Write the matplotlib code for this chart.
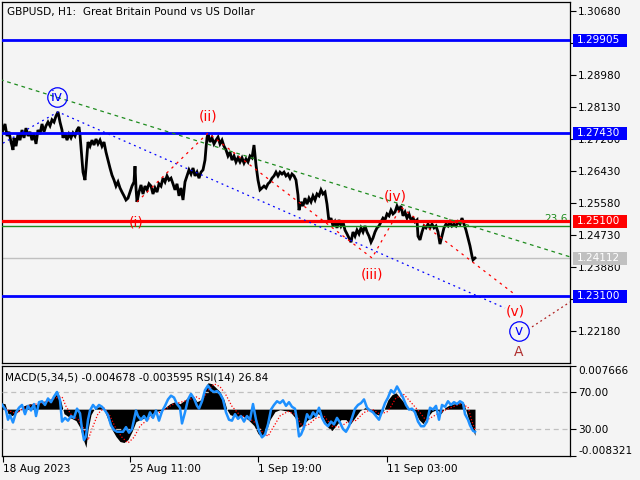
import matplotlib
matplotlib.use("Agg")
import matplotlib.pyplot as plt
from matplotlib.patches import Rectangle

BG = "#f4f4f4"

# ---- GBPUSD H1 closes (bar index, price) ----
bars = [0, 3, 5, 7, 9, 11, 13, 14, 16, 18, 20, 22, 24, 26, 28, 30, 32, 34, 36, 38,
        40, 42, 44, 46, 48, 50, 52, 54, 56, 58, 60, 62, 63, 65, 67, 69, 71, 73, 75, 77,
        79, 80, 82, 83, 85, 86, 88, 90, 92, 94, 96, 98, 100, 102, 104, 106, 108, 110, 112, 114,
        116, 118, 120, 122, 124, 126, 128, 130, 132, 134, 135, 136, 137, 139, 141, 143, 145, 147, 149, 151,
        153, 155, 157, 159, 161, 163, 165, 167, 169, 171, 173, 175, 177, 179, 181, 183, 185, 187, 189, 191,
        193, 195, 197, 199, 201, 203, 205, 206, 207, 208, 210, 212, 214, 216, 218, 220, 222, 224, 226, 228,
        230, 232, 234, 236, 238, 240, 242, 244, 246, 248, 250, 252, 254, 256, 258, 260, 262, 264, 266, 268,
        270, 272, 274, 276, 278, 280, 282, 284, 286, 288, 290, 292, 294, 296, 298, 299, 301, 303, 305, 307,
        309, 311, 313, 315, 317, 319, 321, 323, 325, 327, 329, 331, 333, 335, 337, 339, 341, 343, 345, 347,
        349, 351, 353, 355, 357, 359, 361, 363, 365, 367, 369, 371, 373, 375, 377, 379, 381, 383, 385, 387,
        389, 391, 393, 395, 397, 399, 401, 403, 405, 407, 409, 411, 413, 415, 417, 418, 420, 422, 424, 426,
        428, 430, 432, 434, 436, 438, 440, 442, 444, 446, 448, 450, 452, 454, 456, 458, 460, 462, 464, 466,
        468, 470, 472, 473, 475]
close = [1.2763, 1.2752, 1.2768, 1.2736, 1.2747, 1.2720, 1.2699, 1.2731, 1.2709, 1.2741,
         1.2725, 1.2752, 1.2731, 1.2757, 1.2736, 1.2747, 1.2725, 1.2741, 1.2715, 1.2752,
         1.2741, 1.2768, 1.2747, 1.2763, 1.2773, 1.2763, 1.2779, 1.2773, 1.2789, 1.2800,
         1.2773, 1.2752, 1.2731, 1.2744, 1.2725, 1.2741, 1.2731, 1.2744, 1.2736, 1.2752,
         1.2760, 1.2739, 1.2672, 1.2640, 1.2619, 1.2651, 1.2720, 1.2709, 1.2725, 1.2712,
         1.2728, 1.2715, 1.2725, 1.2709, 1.2720, 1.2693, 1.2672, 1.2651, 1.2632, 1.2619,
         1.2603, 1.2614, 1.2598, 1.2587, 1.2577, 1.2566, 1.2571, 1.2587, 1.2603, 1.2614,
         1.2656, 1.2598, 1.2561, 1.2587, 1.2606, 1.2582, 1.2603, 1.2593, 1.2609, 1.2603,
         1.2582, 1.2598, 1.2587, 1.2609, 1.2603, 1.2624, 1.2614, 1.2630, 1.2619, 1.2624,
         1.2609, 1.2593, 1.2609, 1.2577, 1.2598, 1.2566, 1.2614, 1.2630, 1.2646, 1.2635,
         1.2651, 1.2630, 1.2640, 1.2624, 1.2640, 1.2646, 1.2672, 1.2704, 1.2731, 1.2744,
         1.2720, 1.2731, 1.2715, 1.2725, 1.2733, 1.2715, 1.2725, 1.2709, 1.2699, 1.2683,
         1.2693, 1.2672, 1.2683, 1.2667, 1.2678, 1.2667, 1.2678, 1.2664, 1.2675, 1.2667,
         1.2683, 1.2678, 1.2712, 1.2659, 1.2619, 1.2593, 1.2598, 1.2603, 1.2598, 1.2609,
         1.2614, 1.2624, 1.2630, 1.2640, 1.2630, 1.2640, 1.2635, 1.2640, 1.2630, 1.2635,
         1.2624, 1.2635, 1.2630, 1.2619, 1.2579, 1.2539, 1.2561, 1.2550, 1.2571, 1.2555,
         1.2571, 1.2561, 1.2577, 1.2566, 1.2582, 1.2577, 1.2593, 1.2582, 1.2587, 1.2555,
         1.2508, 1.2518, 1.2497, 1.2508, 1.2492, 1.2513, 1.2497, 1.2508, 1.2486, 1.2476,
         1.2465, 1.2454, 1.2481, 1.2470, 1.2486, 1.2476, 1.2492, 1.2481, 1.2497, 1.2481,
         1.2470, 1.2454, 1.2465, 1.2481, 1.2492, 1.2497, 1.2508, 1.2518, 1.2513, 1.2529,
         1.2524, 1.2539, 1.2529, 1.2534, 1.2550, 1.2539, 1.2550, 1.2524, 1.2534, 1.2518,
         1.2529, 1.2513, 1.2518, 1.2508, 1.2513, 1.2470, 1.2460, 1.2481, 1.2497, 1.2492,
         1.2502, 1.2492, 1.2502, 1.2492, 1.2497, 1.2481, 1.2449, 1.2470, 1.2492, 1.2502,
         1.2497, 1.2508, 1.2497, 1.2502, 1.2497, 1.2508, 1.2502, 1.2518, 1.2502, 1.2486,
         1.2465, 1.2444, 1.2417, 1.2407, 1.2412]

# ---- levels ----
level_prices = [1.29905, 1.27430, 1.25100, 1.23100]
level_colors = ["#0000ff", "#0000ff", "#ff0000", "#0000ff"]
fib_236 = 1.24970
last_price = 1.24112
price_ticks = [1.30680, 1.29830, 1.28980, 1.28130, 1.27280, 1.26430,
               1.25580, 1.24730, 1.23880, 1.23030, 1.22180]
hidden_ticks = [1.29830, 1.23030]   # fully covered by the level boxes

# ---- wave / channel lines ----
green_x, green_y = [0, 570], [1.2886, 1.2415]
blue_x, blue_y = [3, 58, 505], [1.2717, 1.2800, 1.2279]
red_x = [137, 208, 372, 401, 513]
red_y = [1.2561, 1.2744, 1.2412, 1.2547, 1.2319]
ext_x, ext_y = [532, 570], [1.2229, 1.2295]

red_labels = ["(i)", "(ii)", "(iii)", "(iv)", "(v)"]
red_lab_x = [136, 208, 372, 395, 515]
red_lab_y = [1.2505, 1.2787, 1.2367, 1.2574, 1.2269]
circ_labels = ["iv", "v"]
circ_x = [57, 519]
circ_y = [1.2840, 1.2218]

# ---- indicators ----
macd_x = [0, 5, 8, 12, 18, 24, 30, 36, 42, 48, 54, 58, 61, 64, 70, 76, 80, 84, 86, 88,
          91, 95, 100, 104, 108, 112, 116, 120, 124, 128, 132, 136, 140, 146, 150, 155, 160, 165, 170, 175,
          180, 184, 189, 193, 197, 201, 205, 208, 212, 216, 220, 224, 227, 230, 236, 242, 248, 254, 258, 262,
          266, 270, 275, 280, 285, 290, 295, 299, 303, 308, 313, 318, 323, 328, 332, 336, 341, 346, 350, 355,
          360, 365, 370, 375, 380, 384, 388, 392, 396, 400, 405, 410, 415, 419, 423, 427, 432, 437, 441, 445,
          450, 455, 460, 464, 468, 472, 475]
macd = [0.00115, 0.00097, -0.0008, -0.00115, -0.00044, 0.00062, 0.00097, 0.0008, 0.00133, 0.0015,
        0.00221, 0.00292, 0.00133, -0.0008, -0.0015, -0.00204, -0.00327, -0.00575, -0.0068, -0.00363,
        -0.00097, 0.00027, 0.00044, -0.00009, -0.00186, -0.00363, -0.00487, -0.00575, -0.00593, -0.0054,
        -0.00398, -0.00221, -0.00186, -0.0015, -0.00115, -0.00044, -0.00027, 0.00027, 0.00097, 0.00133,
        0.00097, 0.0015, 0.00221, 0.00239, 0.00133, 0.00168, 0.0038, 0.00469, 0.00451, 0.0038,
        0.0031, 0.00168, -0.00009, -0.00097, -0.00133, -0.00115, -0.00186, -0.00292, -0.00434, -0.00504,
        -0.00398, -0.00186, -0.00044, -0.00009, -0.00027, -0.00044, -0.0015, -0.00327, -0.00274, -0.00186,
        -0.0015, -0.0008, -0.0015, -0.00327, -0.0038, -0.00292, -0.00186, -0.00186, -0.00274, -0.0015,
        -0.00027, 0.00027, -0.00009, -0.0008, -0.00115, -0.00009, 0.00168, 0.00257, 0.00292, 0.00204,
        0.00097, -0.00009, -0.00044, -0.00186, -0.00257, -0.0015, -0.00044, -0.00009, -0.0008, 0.00027,
        0.0008, 0.00097, 0.00115, 0.00097, -0.0015, -0.00327, -0.004678]
sig_x = [0, 8, 16, 24, 32, 40, 48, 56, 62, 66, 72, 78, 84, 88, 92, 98, 104, 110, 116, 122,
         128, 134, 140, 148, 156, 164, 172, 180, 188, 196, 202, 208, 214, 220, 226, 232, 240, 248, 256, 262,
         268, 274, 280, 288, 296, 302, 308, 316, 324, 332, 340, 348, 356, 364, 372, 380, 388, 396, 404, 412,
         420, 426, 434, 442, 450, 460, 468, 472, 475]
signal = [0.0009, -0.0002, -0.0008, 0.0002, 0.0008, 0.0010, 0.0014, 0.0020, 0.0022, 0.0005,
          -0.0012, -0.0018, -0.0035, -0.0055, -0.0035, -0.0008, 0.0002, -0.0012, -0.0035, -0.0050,
          -0.0060, -0.0050, -0.0030, -0.0018, -0.0009, -0.0002, 0.0008, 0.0012, 0.0016, 0.0022,
          0.0016, 0.0033, 0.0045, 0.0040, 0.0025, 0.0005, -0.0011, -0.0015, -0.0025, -0.0040,
          -0.0048, -0.0030, -0.0012, -0.0004, -0.0010, -0.0030, -0.0028, -0.0016, -0.0012, -0.0030,
          -0.0032, -0.0022, -0.0020, -0.0006, 0.0000, -0.0009, -0.0004, 0.0020, 0.0026, 0.0010,
          -0.0006, -0.0020, -0.0012, -0.0004, 0.0002, 0.0009, 0.0004, -0.0022, -0.003595]
rsi_x = [0, 3, 6, 8, 10, 13, 16, 19, 22, 25, 28, 31, 34, 36, 39, 42, 45, 48, 51, 54,
         57, 60, 62, 65, 68, 71, 74, 77, 80, 82, 84, 86, 88, 90, 93, 96, 99, 102, 105, 108,
         111, 114, 117, 120, 123, 126, 129, 132, 134, 136, 138, 141, 144, 147, 150, 153, 156, 159, 162, 165,
         168, 171, 174, 177, 180, 182, 185, 188, 191, 194, 197, 199, 202, 205, 208, 211, 214, 217, 220, 223,
         226, 229, 232, 235, 238, 241, 244, 247, 250, 253, 256, 259, 262, 265, 268, 271, 274, 277, 280, 283,
         286, 289, 292, 295, 297, 299, 301, 304, 307, 310, 313, 316, 319, 322, 325, 328, 331, 334, 337, 340,
         343, 346, 349, 352, 355, 358, 361, 364, 367, 370, 373, 376, 379, 382, 385, 388, 391, 394, 397, 400,
         403, 406, 409, 412, 415, 418, 421, 424, 427, 430, 433, 436, 439, 442, 445, 448, 451, 454, 457, 460,
         463, 465, 468, 470, 473, 475]
rsi = [59, 55, 50, 40, 45, 37, 48, 53, 56, 46, 55, 50, 57, 44, 59, 60, 56, 63, 59, 65,
       70, 61, 38, 42, 39, 44, 42, 52, 47, 30, 18, 22, 40, 50, 56, 52, 56, 54, 50, 45,
       34, 29, 27, 27, 27, 32, 26, 30, 40, 50, 44, 40, 44, 39, 48, 42, 50, 39, 49, 55,
       62, 66, 64, 57, 53, 36, 48, 62, 68, 63, 55, 52, 60, 72, 77, 72, 70, 71, 68, 62,
       48, 40, 39, 46, 41, 44, 38, 44, 40, 57, 40, 28, 21, 24, 35, 51, 56, 60, 58, 61,
       55, 59, 54, 52, 40, 22, 24, 32, 46, 41, 48, 44, 53, 42, 36, 33, 38, 35, 42, 37,
       30, 27, 33, 42, 52, 56, 58, 62, 53, 50, 48, 44, 40, 49, 58, 64, 72, 69, 76, 70,
       64, 56, 51, 52, 48, 38, 33, 33, 38, 53, 51, 55, 40, 56, 54, 60, 56, 59, 57, 60,
       58, 46, 40, 34, 28, 26.84]

date_ticks = [3, 130, 258, 387]
date_labels = ["18 Aug 2023", "25 Aug 11:00", "1 Sep 19:00", "11 Sep 03:00"]

W, H = 640, 480
fig = plt.figure(figsize=(6.4, 4.8), dpi=100, facecolor=BG)
FS = 7.6


def fx(px):
    return px / W


def fy(py):
    return 1 - py / H


# ---- main price panel ----
ax = fig.add_axes([fx(2), fy(363), fx(568), 361 / H], facecolor=BG)
ax.set_xlim(2, 570)
ax.set_ylim(1.21331, 1.30919)
ax.set_xticks([])
ax.yaxis.tick_right()
ax.set_yticks(price_ticks)
ax.set_yticklabels(["" if p in hidden_ticks else f"{p:.5f}" for p in price_ticks])
ax.tick_params(axis="y", length=4, width=0.8, pad=2, labelsize=FS, direction="out")
for s in ax.spines.values():
    s.set_linewidth(0.9)

ax.plot(bars, close, color="black", lw=2.0, zorder=3, solid_joinstyle="miter")

ax.axhline(last_price, color="#c0c0c0", lw=1, zorder=2)
ax.axhline(fib_236, color="#1e8c1e", lw=1, zorder=4)
for p, c in zip(level_prices, level_colors):
    ax.axhline(p, color=c, lw=2.0 if c != "#ff0000" else 2.3, zorder=4)
ax.text(568, 1.2502, "23.6", color="#1e8c1e", ha="right", va="bottom", fontsize=FS)

ax.plot(green_x, green_y, color="#1e8c1e", lw=0.9, ls=(0, (3, 3)), zorder=4)
ax.plot(blue_x, blue_y, color="#0000ff", lw=0.9, ls=(0, (1.5, 3)), zorder=4)
ax.plot(red_x, red_y, color="#ff0000", lw=0.9, ls=(0, (2, 3.5)), zorder=4)
ax.plot(ext_x, ext_y, color="#b02020", lw=0.9, ls=(0, (1.5, 2.5)), zorder=4)

for t, x, y in zip(red_labels, red_lab_x, red_lab_y):
    ax.text(x, y, t, color="#ff0000", fontsize=10, ha="center", va="center", zorder=6)
for t, x, y in zip(circ_labels, circ_x, circ_y):
    ax.plot(x, y, "o", ms=14, mfc="none", mec="#0000ff", mew=0.9, zorder=6)
    ax.text(x, y, t, color="#0000ff", fontsize=10, ha="center", va="center", zorder=6)
ax.text(519, 1.2162, "A", color="#b03030", fontsize=10, ha="center", va="center", zorder=6)

# price boxes on the right scale
ppx = (1.30919 - 1.21331) / 361
box_prices = level_prices + [last_price]
box_colors = level_colors + ["#c0c0c0"]
for p, c in zip(box_prices, box_colors):
    ax.add_patch(Rectangle(((573 - 2) / 568, p - 6.5 * ppx), 54 / 568, 13 * ppx,
                           transform=ax.get_yaxis_transform(), facecolor=c,
                           edgecolor="none", clip_on=False, zorder=10))
    ax.text((577 - 2) / 568, p, f"{p:.5f}", transform=ax.get_yaxis_transform(),
            color="white", fontsize=FS, ha="left", va="center", clip_on=False, zorder=11)

fig.text(fx(7), fy(12), "GBPUSD, H1:  Great Britain Pound vs US Dollar",
         fontsize=FS, va="center", ha="left")

# ---- indicator panel: MACD histogram + RSI ----
ax2 = fig.add_axes([fx(2), fy(456), fx(568), 90 / H], facecolor=BG)
ax2.set_xlim(2, 570)
ax2.set_ylim(-0.008321, 0.007666)
ax2.fill_between(macd_x, 0, macd, color="black", lw=0)
ax2.plot(sig_x, signal, color="#ff0000", lw=0.9, ls=(0, (1, 1.5)))
ax2.set_xticks(date_ticks)
ax2.set_xticklabels(date_labels, ha="left")
ax2.tick_params(axis="x", length=4, width=0.8, pad=2, labelsize=FS)
for s in ax2.spines.values():
    s.set_linewidth(0.9)

ax3 = ax2.twinx()
ax3.set_ylim(0.8, 98.1)
ax3.axhline(70, color="#c0c0c0", lw=0.9, ls=(0, (4, 3)))
ax3.axhline(30, color="#c0c0c0", lw=0.9, ls=(0, (4, 3)))
ax3.plot(rsi_x, rsi, color="#1e90ff", lw=1.8)
ax3.set_yticks([70, 30])
ax3.set_yticklabels(["70.00", "30.00"])
ax3.tick_params(axis="y", length=4, width=0.8, pad=2, labelsize=FS)
for s in ax3.spines.values():
    s.set_visible(False)

# MACD scale labels on the right (twinx moved them left)
ax2.yaxis.tick_right()
ax2.set_yticks([0.007666, -0.008321])
ax2.set_yticklabels(["0.007666", "-0.008321"])
yl = ax2.get_yticklabels()
yl[0].set_va("top")
yl[1].set_va("bottom")
ax2.tick_params(axis="y", length=4, width=0.8, pad=2, labelsize=FS)

fig.text(fx(5), fy(377), "MACD(5,34,5) -0.004678 -0.003595 RSI(14) 26.84",
         fontsize=FS, va="center", ha="left")

fig.savefig("out.png", dpi=100, facecolor=BG)
